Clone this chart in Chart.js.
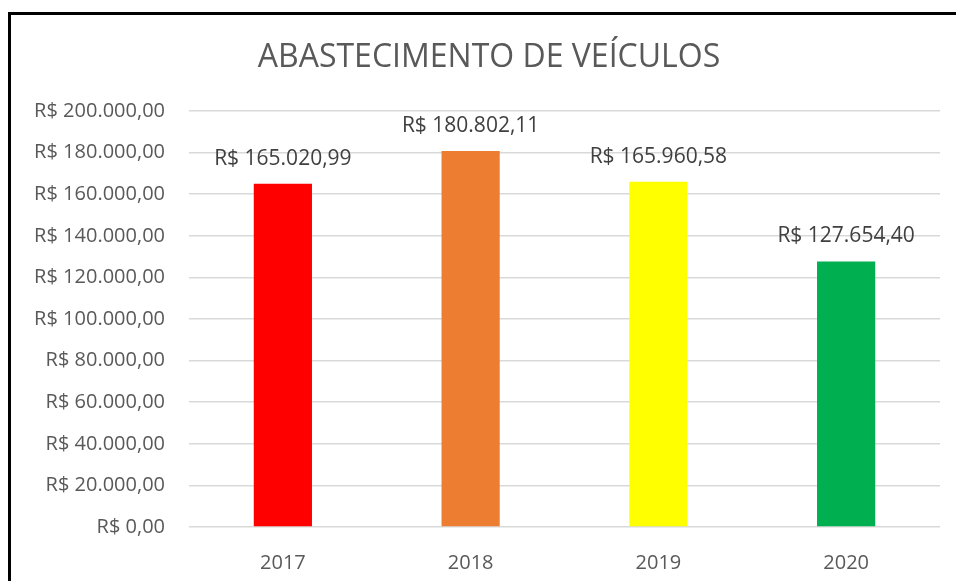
<!DOCTYPE html>
<html>
<head>
<meta charset="utf-8">
<script src="https://cdn.jsdelivr.net/npm/chart.js@4.4.0/dist/chart.umd.min.js"></script>
<style>
  html, body { margin: 0; padding: 0; background: #fff; overflow: hidden; }
  #frame {
    position: absolute; left: 8px; top: 12px;
    width: 1000px; height: 700px;
    border-left: 3px solid #000; border-top: 3px solid #000;
  }
  #wrap { position: absolute; left: 0; top: 0; width: 956px; height: 581px; }
</style>
</head>
<body>
<div id="frame"></div>
<div id="wrap"><canvas id="chart" width="956" height="581"></canvas></div>
<script>
const years = ['2017', '2018', '2019', '2020'];
const valores = [165020.99, 180802.11, 165960.58, 127654.40];
const cores = ['#FF0000', '#ED7D31', '#FFFF00', '#00B050'];
const yTicks = [0, 20000, 40000, 60000, 80000, 100000, 120000, 140000, 160000, 180000, 200000];

const FONT = "'Open Sans', 'Noto Sans', sans-serif";

function brl(v) {
    let s = v.toFixed(2).split('.');
    let int = s[0].replace(/\B(?=(\d{3})+(?!\d))/g, '.');
    return 'R$ ' + int + ',' + s[1];
}

const labelsPlugin = {
    id: 'labelsPlugin',
    afterDatasetsDraw(chart) {
        let ctx = chart.ctx;
        let meta = chart.getDatasetMeta(0);
        ctx.save();
        ctx.font = '21px ' + FONT;
        ctx.fillStyle = '#404040';
        ctx.textAlign = 'center';
        ctx.textBaseline = 'middle';
        meta.data.forEach((bar, i) => {
            ctx.fillText(brl(valores[i]), bar.x, bar.y - 25);
        });
        ctx.restore();
    },
    afterDraw(chart) {
        let ctx = chart.ctx;
        ctx.save();
        ctx.font = '32px ' + FONT;
        ctx.fillStyle = '#595959';
        ctx.textAlign = 'center';
        ctx.textBaseline = 'middle';
        ctx.fillText('ABASTECIMENTO DE VEÍCULOS', 489, 58);
        ctx.restore();
    }
};

let ctxBar = document.getElementById('chart').getContext('2d');
let chart = new Chart(ctxBar, {
    type: 'bar',
    data: {
        labels: years,
        datasets: [{
            data: valores,
            backgroundColor: cores,
            categoryPercentage: 1,
            barPercentage: 0.31,
        }]
    },
    options: {
        responsive: false,
        animation: false,
        layout: {
            padding: { left: 0, right: 16, top: 111, bottom: 0 }
        },
        plugins: {
            legend: { display: false },
            tooltip: { enabled: false },
        },
        scales: {
            x: {
                grid: { display: false },
                border: { display: false },
                ticks: {
                    color: '#595959',
                    font: { family: FONT, size: 20 },
                    padding: 16,
                },
                afterFit(scale) { scale.height = 54; }
            },
            y: {
                min: 0,
                max: 200000,
                afterBuildTicks(scale) {
                    scale.ticks = yTicks.map(v => ({ value: v }));
                },
                grid: { color: '#D9D9D9', lineWidth: 1.5, drawTicks: false },
                border: { display: false },
                ticks: {
                    color: '#595959',
                    font: { family: FONT, size: 20 },
                    padding: 24,
                    callback: v => brl(v),
                },
                afterFit(scale) { scale.width = 189; }
            }
        }
    },
    plugins: [labelsPlugin]
});
</script>
</body>
</html>
